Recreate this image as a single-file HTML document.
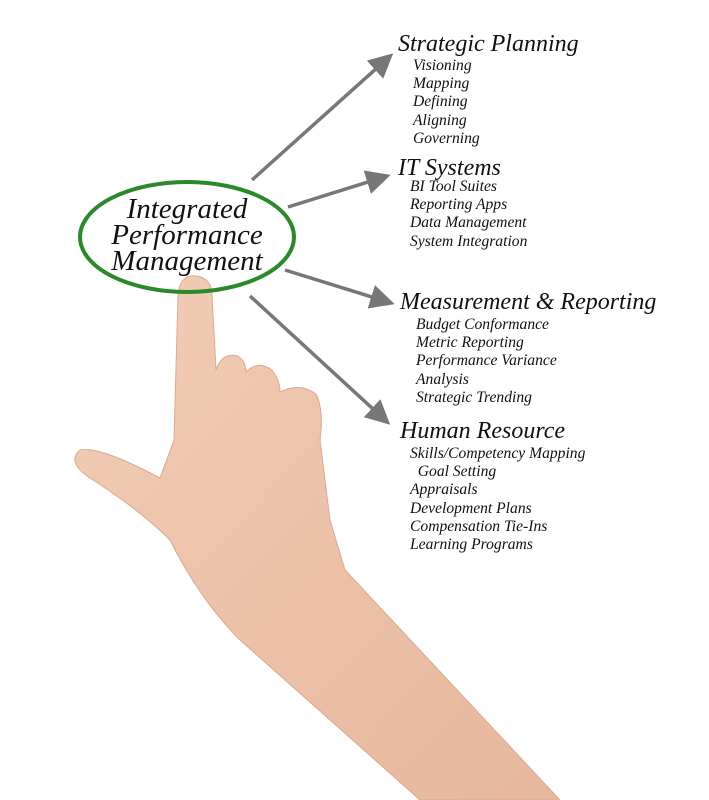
<!DOCTYPE html>
<html><head><meta charset="utf-8"><style>
body{margin:0;background:#fff;width:709px;height:800px;overflow:hidden;position:relative;font-family:"Liberation Serif",serif;font-style:italic;color:#111}
.h{position:absolute;font-size:24px;white-space:nowrap}
.i{position:absolute;font-size:15.6px;line-height:18.2px;white-space:nowrap}
</style></head><body>
<svg width="709" height="800" style="position:absolute;left:0;top:0">
<defs>
<marker id="a" markerWidth="7" markerHeight="7" refX="5" refY="3.5" orient="auto" markerUnits="strokeWidth"><path d="M0,0 L7,3.5 L0,7 Z" fill="#777"/></marker>
<linearGradient id="s" x1="0" y1="0" x2="1" y2="1"><stop offset="0" stop-color="#f2cdb6"/><stop offset="1" stop-color="#e6b79c"/></linearGradient>
</defs>
<g stroke="#777" stroke-width="3.5" fill="none">
<line x1="252" y1="180" x2="388" y2="58" marker-end="url(#a)"/>
<line x1="288" y1="207" x2="384" y2="177" marker-end="url(#a)"/>
<line x1="285" y1="270" x2="388" y2="302" marker-end="url(#a)"/>
<line x1="250" y1="296" x2="385" y2="420" marker-end="url(#a)"/>
</g>
<path d="M178,295 Q180,274 196,276 Q212,278 212,296 L216,370 Q222,352 238,356 Q246,362 246,372 Q258,360 272,370 Q280,380 280,392 Q300,382 316,394 Q324,410 320,440 L330,520 L345,570 L560,800 L420,800 L240,640 Q200,600 170,540 Q140,510 90,478 Q66,462 80,450 Q100,446 160,478 L174,440 Z" fill="url(#s)" stroke="#dcaa90" stroke-width="1"/>
<ellipse cx="187" cy="237" rx="107" ry="55" fill="none" stroke="#2a8a2a" stroke-width="4"/>
</svg>
<div style="position:absolute;left:80px;top:196px;width:214px;text-align:center;font-size:29px;line-height:26px">Integrated<br>Performance<br>Management</div>
<div class="h" style="left:398px;top:31px">Strategic Planning</div>
<div class="i" style="left:413px;top:57px">Visioning<br>Mapping<br>Defining<br>Aligning<br>Governing</div>
<div class="h" style="left:398px;top:155px">IT Systems</div>
<div class="i" style="left:410px;top:178px">BI Tool Suites<br>Reporting Apps<br>Data Management<br>System Integration</div>
<div class="h" style="left:400px;top:289px">Measurement &amp; Reporting</div>
<div class="i" style="left:416px;top:316px">Budget Conformance<br>Metric Reporting<br>Performance Variance<br>Analysis<br>Strategic Trending</div>
<div class="h" style="left:400px;top:418px">Human Resource</div>
<div class="i" style="left:410px;top:445px">Skills/Competency Mapping<br>&nbsp;&nbsp;Goal Setting<br>Appraisals<br>Development Plans<br>Compensation Tie-Ins<br>Learning Programs</div>
</body></html>
